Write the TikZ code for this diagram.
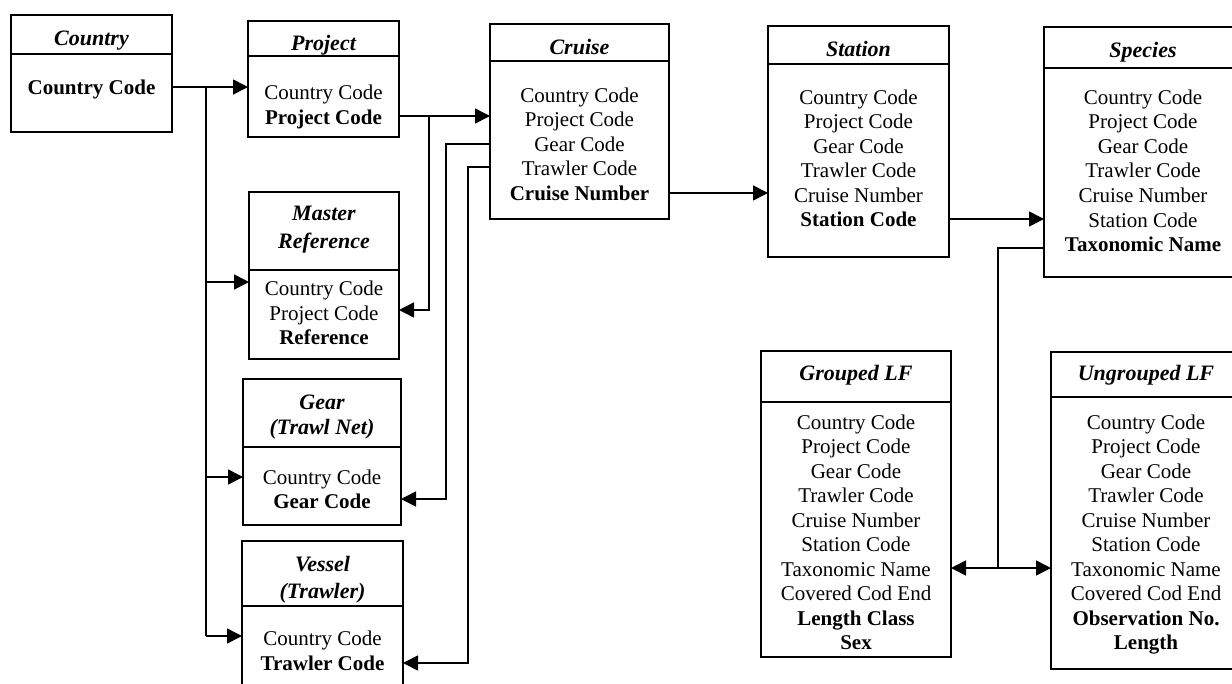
\documentclass[tikz,border=0pt]{standalone}
\usepackage{fontspec}
\setmainfont{Liberation Serif}
\usetikzlibrary{arrows.meta}
\tikzset{
  ebox/.style={draw, line width=1.7pt, inner sep=0pt, outer sep=0pt, anchor=north west},
  eline/.style={line width=1.7pt},
  etxt/.style={anchor=base, inner sep=0pt, font=\fontsize{21}{24.5}\selectfont},
  ettl/.style={anchor=base, inner sep=0pt, font=\fontsize{22}{25}\selectfont\bfseries\itshape},
  conn/.style={line width=1.6pt},
  arr/.style={line width=1.6pt, -{Triangle[length=15pt,width=15pt]}},
  darr/.style={line width=1.6pt, {Triangle[length=15pt,width=15pt]}-{Triangle[length=15pt,width=15pt]}}
}
% name, x1, y1, x2, y2, header y
\newcommand{\entbox}[6]{%
  \node[ebox, minimum width={#4pt-#2pt}, minimum height={#5pt-#3pt}] (#1) at (#2,#3) {};
  \draw[eline] (#1.west |- 0,#6) -- (#1.east |- 0,#6);
}
\begin{document}
\begin{tikzpicture}[x=1pt,y=-1pt]
\useasboundingbox (0,0) rectangle (1232,683);
\clip (0,0) rectangle (1232,683);
\fill[white] (0,0) rectangle (1232,683);

% ---------- boxes ----------
\entbox{country}{11}{15}{172}{132}{54}
\node[ettl] (countryT) at (91.5,45) {Country};
\node[etxt] (country-1) at (91.5,94) {\textbf{Country Code}};

\entbox{project}{248}{21}{399}{137}{56}
\node[ettl] (projectT) at (323.5,50) {Project};
\node[etxt] (project-1) at (323.5,99) {Country Code};
\node[etxt] (project-2) at (323.5,124) {\textbf{Project Code}};

\entbox{master}{249}{192}{399}{359}{270}
\node[ettl] (masterT1) at (324,220) {Master};
\node[ettl] (masterT2) at (324,248) {Reference};
\node[etxt] (master-1) at (324,295) {Country Code};
\node[etxt] (master-2) at (324,320) {Project Code};
\node[etxt] (master-3) at (324,344) {\textbf{Reference}};

\entbox{gear}{243}{379}{401}{525}{447}
\node[ettl] (gearT1) at (322,409) {Gear};
\node[ettl] (gearT2) at (322,434) {(Trawl Net)};
\node[etxt] (gear-1) at (322,484) {Country Code};
\node[etxt] (gear-2) at (322,508) {\textbf{Gear Code}};

\entbox{vessel}{242}{541}{403}{710}{606}
\node[ettl] (vesselT1) at (322.5,571) {Vessel};
\node[ettl] (vesselT2) at (322.5,598) {(Trawler)};
\node[etxt] (vessel-1) at (322.5,645) {Country Code};
\node[etxt] (vessel-2) at (322.5,670) {\textbf{Trawler Code}};

\entbox{cruise}{490}{24}{669}{219}{61}
\node[ettl] (cruiseT) at (579.5,54) {Cruise};
\foreach \t [count=\i] in {Country Code, Project Code, Gear Code, Trawler Code, \textbf{Cruise Number}}
  \node[etxt] (cruise-\i) at (579.5,{102+24.5*(\i-1)}) {\t};

\entbox{station}{768}{26}{949}{257}{64}
\node[ettl] (stationT) at (858.5,56) {Station};
\foreach \t [count=\i] in {Country Code, Project Code, Gear Code, Trawler Code, Cruise Number, \textbf{Station Code}}
  \node[etxt] (station-\i) at (858.5,{104+24.5*(\i-1)}) {\t};

\entbox{species}{1044}{27}{1242}{277}{68}
\node[ettl] (speciesT) at (1143,57) {Species};
\foreach \t [count=\i] in {Country Code, Project Code, Gear Code, Trawler Code, Cruise Number, Station Code, \textbf{Taxonomic Name}}
  \node[etxt] (species-\i) at (1143,{104+24.6*(\i-1)}) {\t};

\entbox{grouped}{761}{351}{951}{657}{402}
\node[ettl] (groupedT) at (856,380) {Grouped LF};
\foreach \t [count=\i] in {Country Code, Project Code, Gear Code, Trawler Code, Cruise Number, Station Code, Taxonomic Name, Covered Cod End, \textbf{Length Class}, \textbf{Sex}}
  \node[etxt] (grouped-\i) at (856,{429+24.5*(\i-1)}) {\t};

\entbox{ungrouped}{1051}{352}{1241}{669}{397}
\node[ettl] (ungroupedT) at (1146,380) {Ungrouped LF};
\foreach \t [count=\i] in {Country Code, Project Code, Gear Code, Trawler Code, Cruise Number, Station Code, Taxonomic Name, Covered Cod End, \textbf{Observation No.}, \textbf{Length}}
  \node[etxt] (ungrouped-\i) at (1146,{429+24.5*(\i-1)}) {\t};

% ---------- junction coordinates ----------
\coordinate (jc) at (206,87);
\coordinate (jcb) at (206,636);
\coordinate (jp) at (429,116);
\coordinate (jpb) at (429,310);
\coordinate (jg) at (446,144);
\coordinate (jgb) at (446,499);
\coordinate (jt) at (468,167);
\coordinate (jtb) at (468,663);
\coordinate (js) at (998,248);
\coordinate (jsb) at (998,568);

% ---------- connectors ----------
\draw[arr] (country.east |- jc) -- (project.west |- jc);
\draw[conn] (jc) -- (jcb);
\draw[arr] (jc |- 0,282) -- (master.west |- 0,282);
\draw[arr] (jc |- 0,477) -- (gear.west |- 0,477);
\draw[arr] (jcb) -- (vessel.west |- jcb);

\draw[arr] (project.east |- jp) -- (cruise.west |- jp);
\draw[arr] (jp) -- (jpb) -- (master.east |- jpb);

\draw[arr] (cruise.west |- jg) -- (jg) -- (jgb) -- (gear.east |- jgb);
\draw[arr] (cruise.west |- jt) -- (jt) -- (jtb) -- (vessel.east |- jtb);

\draw[arr] (cruise.east |- 0,193) -- (station.west |- 0,193);
\draw[arr] (station.east |- 0,219) -- (species.west |- 0,219);

\draw[conn] (species.west |- js) -- (js) -- (jsb);
\draw[darr] (grouped.east |- jsb) -- (ungrouped.west |- jsb);
\end{tikzpicture}
\end{document}
